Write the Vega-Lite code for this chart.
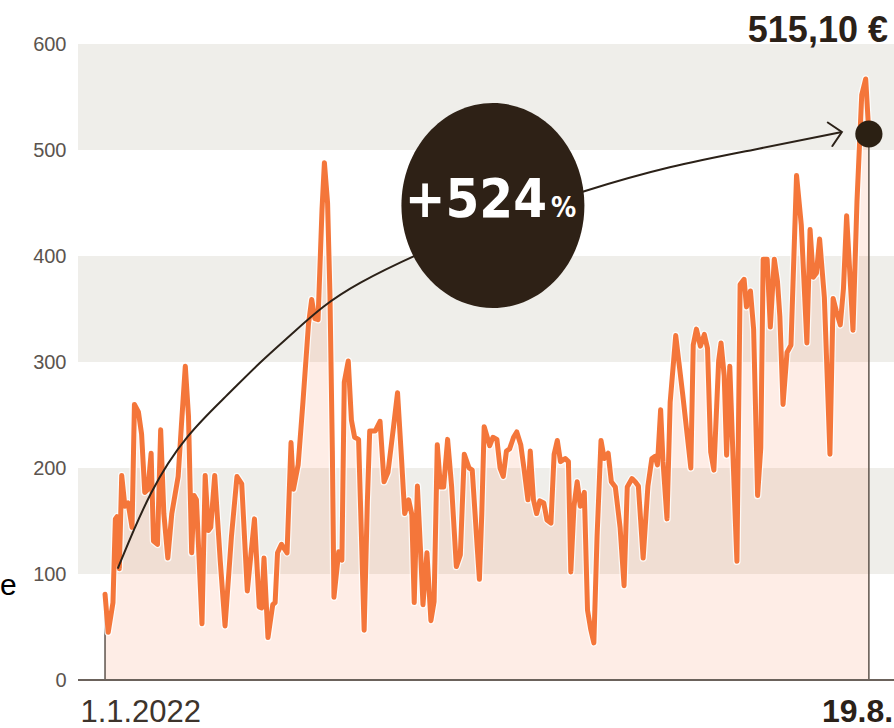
{
  "$schema": "https://vega.github.io/schema/vega-lite/v6.json",
  "autosize": {"type": "none"},
  "width": 816,
  "height": 636,
  "padding": {"left": 78, "top": 44, "right": 0, "bottom": 48},
  "background": "white",
  "config": {"view": {"stroke": null}},
  "datasets": {
    "price": [
      {"day":0,"price":81},{"day":4,"price":45},{"day":10,"price":73},{"day":13,"price":152},{"day":15,"price":154},{"day":18,"price":105},{"day":21,"price":193},{"day":25,"price":164},{"day":29,"price":167},{"day":34,"price":144},{"day":37,"price":260},{"day":42,"price":253},{"day":46,"price":232},{"day":50,"price":177},{"day":54,"price":180},{"day":58,"price":214},{"day":61,"price":131},{"day":66,"price":128},{"day":70,"price":236},{"day":74,"price":157},{"day":79,"price":115},{"day":84,"price":157},{"day":92,"price":192},{"day":96,"price":239},{"day":101,"price":296},{"day":105,"price":249},{"day":109,"price":120},{"day":112,"price":174},{"day":115,"price":170},{"day":122,"price":53},{"day":126,"price":193},{"day":130,"price":141},{"day":133,"price":144},{"day":138,"price":193},{"day":145,"price":112},{"day":151,"price":51},{"day":159,"price":135},{"day":166,"price":192},{"day":172,"price":185},{"day":179,"price":84},{"day":188,"price":152},{"day":194,"price":69},{"day":197,"price":68},{"day":200,"price":115},{"day":205,"price":40},{"day":211,"price":71},{"day":214,"price":73},{"day":217,"price":120},{"day":222,"price":128},{"day":229,"price":120},{"day":234,"price":224},{"day":237,"price":180},{"day":243,"price":203},{"day":249,"price":262},{"day":256,"price":336},{"day":260,"price":359},{"day":264,"price":341},{"day":268,"price":340},{"day":273,"price":444},{"day":276,"price":488},{"day":280,"price":450},{"day":283,"price":363},{"day":286,"price":216},{"day":288,"price":78},{"day":294,"price":121},{"day":298,"price":113},{"day":301,"price":281},{"day":306,"price":301},{"day":310,"price":245},{"day":314,"price":229},{"day":319,"price":227},{"day":322,"price":151},{"day":326,"price":47},{"day":330,"price":167},{"day":333,"price":235},{"day":340,"price":235},{"day":346,"price":244},{"day":351,"price":187},{"day":356,"price":196},{"day":363,"price":239},{"day":368,"price":271},{"day":373,"price":209},{"day":377,"price":157},{"day":382,"price":170},{"day":386,"price":156},{"day":389,"price":73},{"day":393,"price":183},{"day":397,"price":121},{"day":400,"price":71},{"day":405,"price":120},{"day":410,"price":56},{"day":414,"price":74},{"day":418,"price":222},{"day":422,"price":182},{"day":426,"price":182},{"day":431,"price":227},{"day":436,"price":183},{"day":442,"price":107},{"day":447,"price":118},{"day":452,"price":213},{"day":458,"price":200},{"day":462,"price":198},{"day":468,"price":128},{"day":471,"price":95},{"day":474,"price":157},{"day":477,"price":239},{"day":484,"price":221},{"day":488,"price":229},{"day":493,"price":227},{"day":497,"price":200},{"day":501,"price":192},{"day":505,"price":216},{"day":509,"price":218},{"day":514,"price":229},{"day":518,"price":234},{"day":523,"price":222},{"day":527,"price":200},{"day":532,"price":170},{"day":535,"price":216},{"day":539,"price":170},{"day":543,"price":157},{"day":547,"price":169},{"day":552,"price":167},{"day":556,"price":151},{"day":561,"price":148},{"day":565,"price":213},{"day":569,"price":226},{"day":573,"price":206},{"day":579,"price":209},{"day":583,"price":206},{"day":586,"price":102},{"day":590,"price":164},{"day":594,"price":187},{"day":598,"price":164},{"day":603,"price":177},{"day":607,"price":66},{"day":611,"price":48},{"day":615,"price":35},{"day":619,"price":135},{"day":624,"price":226},{"day":628,"price":209},{"day":633,"price":214},{"day":637,"price":187},{"day":642,"price":182},{"day":648,"price":144},{"day":653,"price":89},{"day":657,"price":182},{"day":663,"price":190},{"day":667,"price":187},{"day":671,"price":183},{"day":677,"price":115},{"day":683,"price":183},{"day":688,"price":209},{"day":692,"price":211},{"day":695,"price":203},{"day":699,"price":255},{"day":702,"price":206},{"day":707,"price":152},{"day":711,"price":262},{"day":718,"price":325},{"day":727,"price":268},{"day":737,"price":200},{"day":740,"price":316},{"day":744,"price":331},{"day":749,"price":315},{"day":754,"price":326},{"day":758,"price":313},{"day":762,"price":215},{"day":766,"price":198},{"day":772,"price":301},{"day":775,"price":318},{"day":779,"price":287},{"day":782,"price":212},{"day":786,"price":296},{"day":790,"price":212},{"day":793,"price":150},{"day":795,"price":112},{"day":799,"price":373},{"day":804,"price":378},{"day":807,"price":352},{"day":812,"price":367},{"day":816,"price":331},{"day":821,"price":174},{"day":825,"price":219},{"day":828,"price":397},{"day":833,"price":397},{"day":837,"price":333},{"day":842,"price":397},{"day":846,"price":376},{"day":849,"price":343},{"day":853,"price":260},{"day":858,"price":309},{"day":863,"price":316},{"day":870,"price":476},{"day":876,"price":429},{"day":883,"price":318},{"day":887,"price":425},{"day":891,"price":380},{"day":895,"price":384},{"day":899,"price":416},{"day":905,"price":361},{"day":912,"price":213},{"day":916,"price":360},{"day":920,"price":348},{"day":925,"price":335},{"day":929,"price":369},{"day":933,"price":438},{"day":941,"price":330},{"day":946,"price":451},{"day":952,"price":552},{"day":957,"price":567},{"day":961,"price":515.1}
    ],
    "bands": [{"lo":100,"hi":200},{"lo":300,"hi":400},{"lo":500,"hi":600}],
    "curve": [
      {"day":16,"v":105},{"day":57,"v":180},{"day":103,"v":232},{"day":153,"v":268},{"day":195,"v":300},{"day":233,"v":325},{"day":274,"v":353},{"day":317,"v":374},{"day":387,"v":400},{"day":497,"v":435},{"day":604,"v":462},{"day":711,"v":485},{"day":815,"v":500},{"day":927,"v":517}
    ],
    "ends": [{"day":0,"lo":0,"hi":81},{"day":961,"lo":0,"hi":515.1}]
  },
  "layer": [
    {
      "data": {"name": "bands"},
      "mark": {"type": "rect", "color": "#efeeea"},
      "encoding": {
        "y": {"field": "lo", "type": "quantitative", "scale": {"domain": [0, 600], "nice": false, "zero": false},
          "axis": {"values": [0,100,200,300,400,500,600], "title": null, "ticks": false, "domain": false, "grid": false, "labelPadding": 12, "labelFont": "Liberation Sans", "labelFontSize": 20, "labelColor": "#5b544e"}},
        "y2": {"field": "hi"}
      }
    },
    {
      "data": {"name": "price"},
      "mark": {"type": "area", "color": "#f4763a", "opacity": 0.13},
      "encoding": {
        "x": {"field": "day", "type": "quantitative", "scale": {"domain": [-34, 992.6], "nice": false, "zero": false}, "axis": null},
        "y": {"field": "price", "type": "quantitative", "scale": {"domain": [0, 600], "nice": false, "zero": false}}
      }
    },
    {
      "data": {"name": "ends"},
      "mark": {"type": "rule", "color": "#5e544c", "strokeWidth": 1.5},
      "encoding": {
        "x": {"field": "day", "type": "quantitative", "scale": {"domain": [-34, 992.6], "nice": false, "zero": false}},
        "y": {"field": "lo", "type": "quantitative", "scale": {"domain": [0, 600], "nice": false, "zero": false}},
        "y2": {"field": "hi"}
      }
    },
    {
      "data": {"name": "price"},
      "mark": {"type": "line", "color": "#ffffff", "strokeWidth": 7.5, "strokeJoin": "round", "strokeCap": "round", "opacity": 0.8},
      "encoding": {
        "x": {"field": "day", "type": "quantitative", "scale": {"domain": [-34, 992.6], "nice": false, "zero": false}},
        "y": {"field": "price", "type": "quantitative", "scale": {"domain": [0, 600], "nice": false, "zero": false}}
      }
    },
    {
      "data": {"name": "price"},
      "mark": {"type": "line", "color": "#f4763a", "strokeWidth": 5, "strokeJoin": "round", "strokeCap": "round"},
      "encoding": {
        "x": {"field": "day", "type": "quantitative", "scale": {"domain": [-34, 992.6], "nice": false, "zero": false}},
        "y": {"field": "price", "type": "quantitative", "scale": {"domain": [0, 600], "nice": false, "zero": false}}
      }
    },
    {
      "data": {"values": [{"v": 0}]},
      "mark": {"type": "rule", "color": "#6b625b", "strokeWidth": 2},
      "encoding": {
        "y": {"field": "v", "type": "quantitative", "scale": {"domain": [0, 600], "nice": false, "zero": false}}
      }
    },
    {
      "data": {"name": "curve"},
      "mark": {"type": "line", "color": "#2b2118", "strokeWidth": 2, "interpolate": "basis"},
      "encoding": {
        "x": {"field": "day", "type": "quantitative", "scale": {"domain": [-34, 992.6], "nice": false, "zero": false}},
        "y": {"field": "v", "type": "quantitative", "scale": {"domain": [0, 600], "nice": false, "zero": false}}
      }
    },
    {
      "data": {"values": [{"day": 927, "v": 517}]},
      "mark": {"type": "point", "shape": "M-1,-1L0,0L-1,1", "size": 576, "filled": false, "stroke": "#2b2118", "strokeWidth": 2, "opacity": 1, "angle": -11, "strokeCap": "round", "strokeJoin": "miter"},
      "encoding": {
        "x": {"field": "day", "type": "quantitative", "scale": {"domain": [-34, 992.6], "nice": false, "zero": false}},
        "y": {"field": "v", "type": "quantitative", "scale": {"domain": [0, 600], "nice": false, "zero": false}}
      }
    },
    {
      "data": {"values": [{"day": 488, "v": 447.6}]},
      "mark": {"type": "point", "shape": "M-1,0A1,1.12 0 1,0 1,0A1,1.12 0 1,0 -1,0Z", "size": 33489, "filled": true, "color": "#2e2116", "opacity": 1},
      "encoding": {
        "x": {"field": "day", "type": "quantitative", "scale": {"domain": [-34, 992.6], "nice": false, "zero": false}},
        "y": {"field": "v", "type": "quantitative", "scale": {"domain": [0, 600], "nice": false, "zero": false}}
      }
    },
    {
      "data": {"values": [{"day": 556, "v": 437, "label": "+524"}]},
      "mark": {"type": "text", "align": "right", "baseline": "alphabetic", "color": "#ffffff", "font": "Liberation Sans Narrow, DejaVu Sans Condensed, Liberation Sans", "fontWeight": "bold", "fontSize": 54},
      "encoding": {
        "x": {"field": "day", "type": "quantitative", "scale": {"domain": [-34, 992.6], "nice": false, "zero": false}},
        "y": {"field": "v", "type": "quantitative", "scale": {"domain": [0, 600], "nice": false, "zero": false}},
        "text": {"field": "label"}
      }
    },
    {
      "data": {"values": [{"day": 561, "v": 437, "label": "%"}]},
      "mark": {"type": "text", "align": "left", "baseline": "alphabetic", "color": "#ffffff", "font": "Liberation Sans Narrow, DejaVu Sans Condensed, Liberation Sans", "fontWeight": "bold", "fontSize": 28},
      "encoding": {
        "x": {"field": "day", "type": "quantitative", "scale": {"domain": [-34, 992.6], "nice": false, "zero": false}},
        "y": {"field": "v", "type": "quantitative", "scale": {"domain": [0, 600], "nice": false, "zero": false}},
        "text": {"field": "label"}
      }
    },
    {
      "data": {"values": [{"day": 985, "v": 602, "label": "515,10 €"}]},
      "mark": {"type": "text", "align": "right", "baseline": "alphabetic", "color": "#2b2118", "font": "Liberation Sans", "fontWeight": "bold", "fontSize": 36},
      "encoding": {
        "x": {"field": "day", "type": "quantitative", "scale": {"domain": [-34, 992.6], "nice": false, "zero": false}},
        "y": {"field": "v", "type": "quantitative", "scale": {"domain": [0, 600], "nice": false, "zero": false}},
        "text": {"field": "label"}
      }
    },
    {
      "data": {"values": [{"day": -31, "v": -39.6, "label": "1.1.2022"}]},
      "mark": {"type": "text", "align": "left", "baseline": "alphabetic", "color": "#3d342c", "font": "Liberation Sans", "fontSize": 31},
      "encoding": {
        "x": {"field": "day", "type": "quantitative", "scale": {"domain": [-34, 992.6], "nice": false, "zero": false}},
        "y": {"field": "v", "type": "quantitative", "scale": {"domain": [0, 600], "nice": false, "zero": false}},
        "text": {"field": "label"}
      }
    },
    {
      "data": {"values": [{"day": 902, "v": -39.6, "label": "19.8."}]},
      "mark": {"type": "text", "align": "left", "baseline": "alphabetic", "color": "#2b2118", "font": "Liberation Sans", "fontWeight": "bold", "fontSize": 32},
      "encoding": {
        "x": {"field": "day", "type": "quantitative", "scale": {"domain": [-34, 992.6], "nice": false, "zero": false}},
        "y": {"field": "v", "type": "quantitative", "scale": {"domain": [0, 600], "nice": false, "zero": false}},
        "text": {"field": "label"}
      }
    },
    {
      "data": {"values": [{"day": -132, "v": 80, "label": "e"}]},
      "mark": {"type": "text", "align": "left", "baseline": "alphabetic", "color": "#000000", "font": "Liberation Sans", "fontSize": 30},
      "encoding": {
        "x": {"field": "day", "type": "quantitative", "scale": {"domain": [-34, 992.6], "nice": false, "zero": false}},
        "y": {"field": "v", "type": "quantitative", "scale": {"domain": [0, 600], "nice": false, "zero": false}},
        "text": {"field": "label"}
      }
    },
    {
      "data": {"values": [{"day": 961, "v": 515.1}]},
      "mark": {"type": "point", "shape": "circle", "size": 740, "filled": true, "color": "#2b2013", "opacity": 1},
      "encoding": {
        "x": {"field": "day", "type": "quantitative", "scale": {"domain": [-34, 992.6], "nice": false, "zero": false}},
        "y": {"field": "v", "type": "quantitative", "scale": {"domain": [0, 600], "nice": false, "zero": false}}
      }
    }
  ]
}
